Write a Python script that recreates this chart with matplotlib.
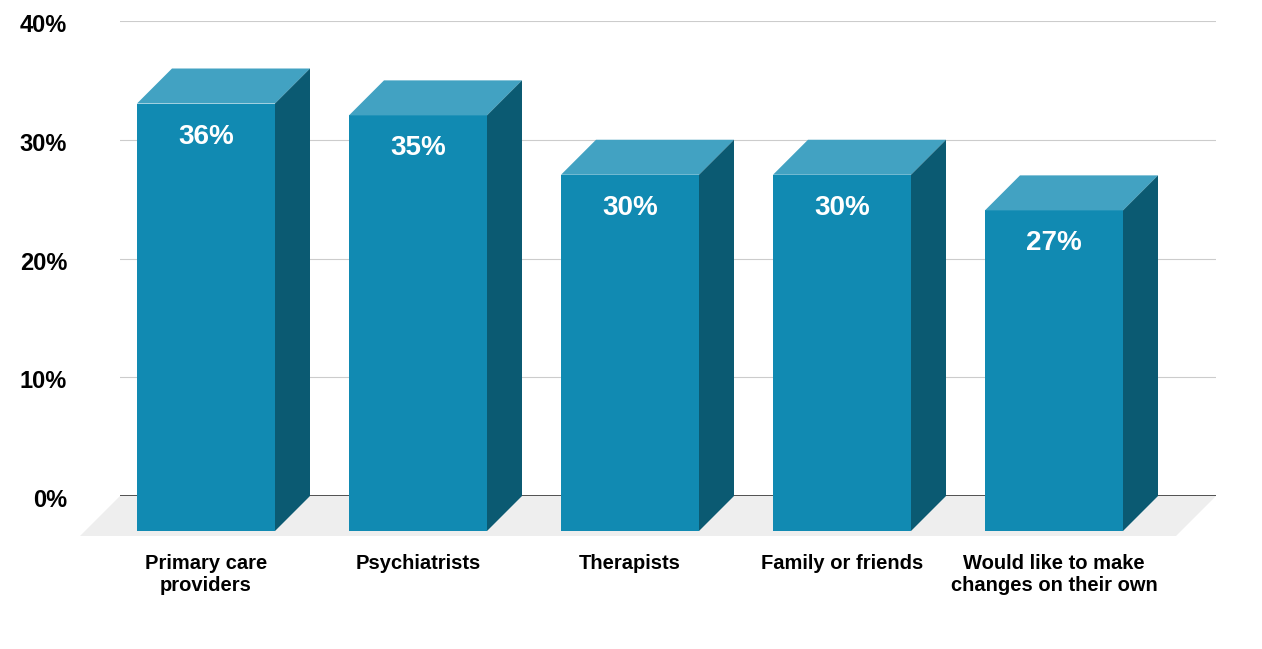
import matplotlib
matplotlib.use("Agg")
import matplotlib.pyplot as plt
import matplotlib.transforms as mtransforms
from matplotlib.patches import Polygon

plt.rcParams['font.family'] = ['Liberation Sans', 'DejaVu Sans']

categories = ["Primary care\nproviders", "Psychiatrists", "Therapists",
              "Family or friends", "Would like to make\nchanges on their own"]
values = [36, 35, 30, 30, 27]
labels = ["36%", "35%", "30%", "30%", "27%"]
yticks = [0, 10, 20, 30, 40]

front_col = "#118ab2"
top_col = "#42a2c2"
side_col = "#0b5a72"

W, H = 1262, 649
fig = plt.figure(figsize=(W / 100, H / 100), dpi=100)
# axes covers the back plane: x pixels 120..1216, y pixels 21..496
ax = fig.add_axes([120 / W, (H - 496) / H, 1096 / W, 475 / H])

px_x = 212.0            # pixels per category step
px_y = 475.0 / 40       # pixels per percent
ax.set_xlim((120 - 206) / px_x, (1216 - 206) / px_x)
ax.set_ylim(0, 40)

dx = 35 / px_x          # depth offset
dy = 35 / px_y
bw = 138 / px_x         # bar width

# floor
fx0, fx1 = ax.get_xlim()
fdx = 40 / px_x
fdy = 40 / px_y
ax.add_patch(Polygon([(fx0, 0), (fx1, 0), (fx1 - fdx, -fdy), (fx0 - fdx, -fdy)],
                     closed=True, facecolor="#eeeeee", edgecolor="none",
                     clip_on=False, zorder=1))
ax.axhline(0, color="#333333", lw=1.2, zorder=2)

for i, v in enumerate(values):
    x0 = i - bw / 2
    x1 = i + bw / 2
    # front face
    ax.add_patch(Polygon([(x0, -dy), (x1, -dy), (x1, v - dy), (x0, v - dy)],
                         closed=True, facecolor=front_col, edgecolor="none",
                         clip_on=False, zorder=3))
    # top face
    ax.add_patch(Polygon([(x0, v - dy), (x1, v - dy), (x1 + dx, v), (x0 + dx, v)],
                         closed=True, facecolor=top_col, edgecolor="none",
                         clip_on=False, zorder=3))
    # side face
    ax.add_patch(Polygon([(x1, -dy), (x1 + dx, 0), (x1 + dx, v), (x1, v - dy)],
                         closed=True, facecolor=side_col, edgecolor="none",
                         clip_on=False, zorder=3))
    ax.text(i, v - dy - 33 / px_y, labels[i], ha="center", va="center",
            color="white", fontsize=20, fontweight="bold", zorder=4)

ax.set_yticks(yticks)
ax.set_yticklabels([f"{t}%" for t in yticks], fontsize=17, fontweight="bold")
ax.set_xticks(range(len(categories)))
ax.set_xticklabels(categories, fontsize=14.5, fontweight="bold", linespacing=1.2)
ax.tick_params(axis="y", length=0, pad=38)
ax.tick_params(axis="x", length=0, pad=42)
# nudge y labels down a little
shift = mtransforms.ScaledTranslation(0, -2 / 100, fig.dpi_scale_trans)
for t in ax.get_yticklabels():
    t.set_transform(t.get_transform() + shift)
ax.grid(axis="y", color="#cccccc", lw=0.8, zorder=0)
ax.set_axisbelow(True)
for s in ax.spines.values():
    s.set_visible(False)

fig.savefig("out.png", dpi=100)
